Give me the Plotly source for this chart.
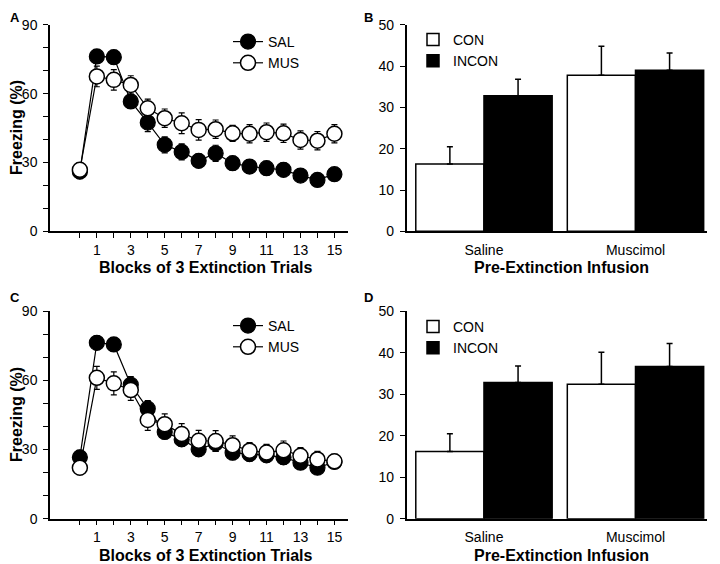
import plotly.graph_objects as go

# ---------------- data ----------------
blocks = list(range(0, 16))

a_sal = [26, 76.2, 75.9, 56.6, 47.4, 37.7, 34.6, 30.7, 34.0, 29.7, 28.2, 27.5, 26.8, 24.3, 22.4, 24.9]
a_sal_err = [3, 3, 3, 3, 4, 3.5, 3.5, 3, 3.5, 3, 3, 3, 3, 2.5, 2.5, 2.5]
a_mus = [26.8, 67.5, 66.0, 63.8, 53.6, 49.3, 47.1, 44.2, 44.5, 42.7, 42.5, 43.2, 42.7, 39.8, 39.5, 42.5]
a_mus_err = [3, 4.5, 4.5, 4, 4, 4, 4.5, 4.5, 4, 3.5, 4, 4, 4, 4, 4, 4]

c_sal = [26.6, 76.3, 75.6, 58.1, 47.7, 37.6, 34.4, 30.1, 32.7, 28.6, 28.0, 27.5, 26.6, 24.3, 22.1, 24.6]
c_sal_err = [3, 3, 3, 3.5, 3.5, 3, 3, 3, 3.5, 3, 3, 3, 3, 2.5, 2.5, 2.5]
c_mus = [22.1, 61.1, 58.7, 55.8, 42.8, 41.0, 36.7, 33.8, 33.7, 31.9, 29.5, 28.7, 29.7, 27.3, 25.7, 24.9]
c_mus_err = [3, 5, 5, 4.5, 4.5, 4.5, 4.5, 4.5, 4.5, 4, 3.5, 3.5, 4, 3.5, 3.5, 3]

infusions = ["Saline", "Muscimol"]
b_con = [16.3, 37.8]
b_con_err = [4.2, 7.0]
b_incon = [32.8, 39.0]
b_incon_err = [4.0, 4.2]

d_con = [16.2, 32.4]
d_con_err = [4.3, 7.7]
d_incon = [32.8, 36.7]
d_incon_err = [4.0, 5.5]

x_tick_vals = list(range(0, 16))
x_tick_text = ["" if (v == 0 or v % 2 == 0) else str(v) for v in x_tick_vals]
y_line_vals = list(range(0, 91, 10))
y_line_text = [str(v) if v % 30 == 0 else "" for v in y_line_vals]
y_bar_vals = list(range(0, 51, 10))

FONT = "Liberation Sans, Arial, sans-serif"

fig = go.Figure()


def line_pair(sal, sal_err, mus, mus_err, xa, ya, leg):
    fig.add_trace(go.Scatter(
        x=blocks, y=sal, name="SAL", mode="lines+markers",
        line=dict(color="black", width=1.2),
        marker=dict(size=15, color="black", line=dict(color="black", width=1.2)),
        error_y=dict(type="data", array=sal_err, color="black", thickness=1.2, width=3),
        xaxis=xa, yaxis=ya, legend=leg, cliponaxis=False))
    fig.add_trace(go.Scatter(
        x=blocks, y=mus, name="MUS", mode="lines+markers",
        line=dict(color="black", width=1.2),
        marker=dict(size=15, color="white", line=dict(color="black", width=1.5)),
        error_y=dict(type="data", array=mus_err, color="black", thickness=1.2, width=3),
        xaxis=xa, yaxis=ya, legend=leg, cliponaxis=False))


def bar_pair(con, con_err, incon, incon_err, xa, ya, leg):
    fig.add_trace(go.Bar(
        x=infusions, y=con, name="CON",
        marker=dict(color="white", line=dict(color="black", width=1.5)),
        error_y=dict(type="data", symmetric=False, array=con_err, arrayminus=[0, 0],
                     color="black", thickness=1.5, width=3),
        xaxis=xa, yaxis=ya, legend=leg))
    fig.add_trace(go.Bar(
        x=infusions, y=incon, name="INCON",
        marker=dict(color="black", line=dict(color="black", width=1.5)),
        error_y=dict(type="data", symmetric=False, array=incon_err, arrayminus=[0, 0],
                     color="black", thickness=1.5, width=3),
        xaxis=xa, yaxis=ya, legend=leg))


line_pair(a_sal, a_sal_err, a_mus, a_mus_err, "x", "y", "legend")
bar_pair(b_con, b_con_err, b_incon, b_incon_err, "x2", "y2", "legend2")
line_pair(c_sal, c_sal_err, c_mus, c_mus_err, "x3", "y3", "legend3")
bar_pair(d_con, d_con_err, d_incon, d_incon_err, "x4", "y4", "legend4")

# the page places the figure 8px in from the window's top-left corner
OFF = 8
W, H = 720 - OFF, 564 - OFF
def px(x):
    return (x - OFF) / W
def py(y):
    return 1 - (y - OFF) / H

common = dict(showline=True, linecolor="black", linewidth=1.5, showgrid=False, zeroline=False,
              automargin=False, tickfont=dict(size=14, color="black", family=FONT))
line_x = dict(range=[-1.76, 15.8], tickmode="array", tickvals=x_tick_vals, ticktext=x_tick_text,
              ticks="outside", ticklen=5, tickwidth=1.2, tickcolor="black", **common)
line_y = dict(range=[0, 90], tickmode="array", tickvals=y_line_vals, ticktext=y_line_text,
              ticks="outside", ticklen=5, tickwidth=1.2, tickcolor="black",
              ticklabelstandoff=3, **common)
bar_x = dict(range=[-0.51, 1.47], ticks="", ticklabelstandoff=5, **common)
bar_y = dict(range=[0, 50], tickmode="array", tickvals=y_bar_vals,
             ticks="outside", ticklen=5, tickwidth=1.2, tickcolor="black",
             ticklabelstandoff=3, **common)

top_dom_y = [py(231.3), py(24.8)]
bot_dom_y = [py(518.7), py(311.2)]
left_dom_x = [px(50), px(348)]
right_dom_x = [px(406.7), px(706.7)]

leg_common = dict(xanchor="left", yanchor="top", bgcolor="rgba(0,0,0,0)",
                  font=dict(size=14, family=FONT, color="black"), itemwidth=30,
                  traceorder="normal")

fig.update_layout(
    width=W, height=H, margin=dict(l=0, r=0, t=0, b=0, autoexpand=False),
    paper_bgcolor="white", plot_bgcolor="white",
    font=dict(family=FONT, color="black"),
    barmode="group", bargap=0.1, bargroupgap=0,
    xaxis=dict(domain=left_dom_x, anchor="y", **line_x),
    yaxis=dict(domain=top_dom_y, anchor="x", **line_y),
    xaxis2=dict(domain=right_dom_x, anchor="y2", **bar_x),
    yaxis2=dict(domain=top_dom_y, anchor="x2", **bar_y),
    xaxis3=dict(domain=left_dom_x, anchor="y3", **line_x),
    yaxis3=dict(domain=bot_dom_y, anchor="x3", **line_y),
    xaxis4=dict(domain=right_dom_x, anchor="y4", **bar_x),
    yaxis4=dict(domain=bot_dom_y, anchor="x4", **bar_y),
    legend=dict(x=px(228), y=py(26), **leg_common),
    legend2=dict(x=px(413), y=py(24), **leg_common),
    legend3=dict(x=px(228), y=py(310), **leg_common),
    legend4=dict(x=px(413), y=py(311), **leg_common),
)

ann = []
def label(text, x, y, size, bold=True, angle=0, xanchor="center", yanchor="middle"):
    t = f"<b>{text}</b>" if bold else text
    ann.append(dict(text=t, x=px(x), y=py(y), xref="paper", yref="paper", showarrow=False,
                    font=dict(size=size, family=FONT, color="black"), textangle=angle,
                    xanchor=xanchor, yanchor=yanchor))

label("A", 8, 8, 13, xanchor="left", yanchor="top")
label("B", 362, 8, 13, xanchor="left", yanchor="top")
label("C", 8, 288, 13, xanchor="left", yanchor="top")
label("D", 362, 288, 13, xanchor="left", yanchor="top")
label("Freezing (%)", 16, 128, 16, angle=-90)
label("Freezing (%)", 16, 415, 16, angle=-90)
label("Blocks of 3 Extinction Trials", 205, 267, 16)
label("Blocks of 3 Extinction Trials", 205, 555, 16)
label("Pre-Extinction Infusion", 561, 267, 16)
label("Pre-Extinction Infusion", 561, 555, 16)
fig.update_layout(annotations=ann)

fig.write_html("out.html")
